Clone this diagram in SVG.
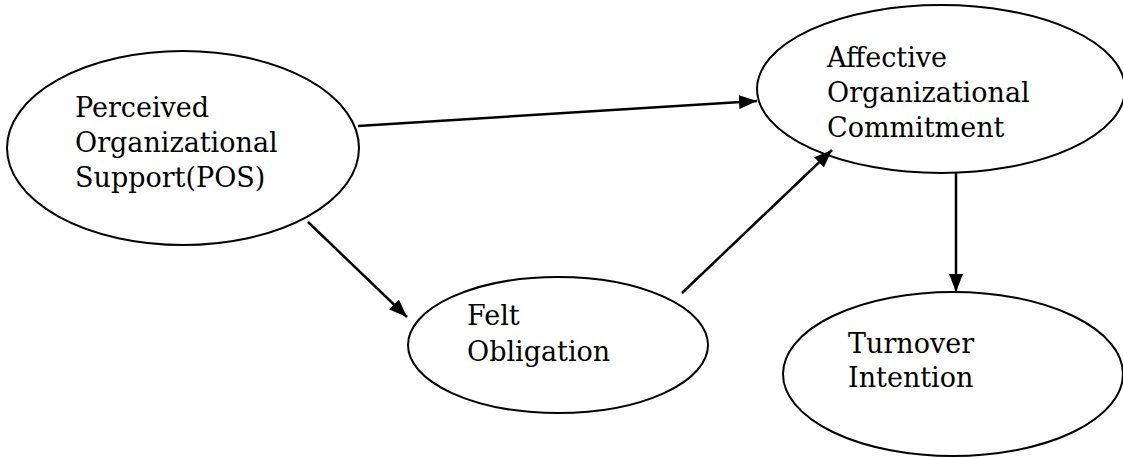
<svg xmlns="http://www.w3.org/2000/svg" width="1123" height="458" viewBox="0 0 1123 458">
<defs>
<marker id="arr" markerUnits="userSpaceOnUse" markerWidth="18" markerHeight="14" viewBox="0 0 18 14" refX="18" refY="7" orient="auto">
<path d="M0,0 L18,7 L0,14 z" fill="#000"/>
</marker>
</defs>
<style>
.node ellipse{fill:#fff;stroke:#000;stroke-width:2}
.node text{font-family:"DejaVu Serif","Liberation Serif",serif;font-size:27px;fill:#000}
.edge{stroke:#000;stroke-width:2.5;fill:none;marker-end:url(#arr)}
</style>
<rect width="1123" height="458" fill="#fff"/>
<g id="pos" class="node">
<ellipse cx="183" cy="148" rx="176" ry="97"/>
<text x="75" y="117">Perceived</text>
<text x="75" y="152">Organizational</text>
<text x="75" y="187">Support(POS)</text>
</g>
<g id="aoc" class="node">
<ellipse cx="941" cy="89" rx="184" ry="84"/>
<text x="827" y="67">Affective</text>
<text x="827" y="102">Organizational</text>
<text x="827" y="137">Commitment</text>
</g>
<g id="felt" class="node">
<ellipse cx="558" cy="345" rx="150" ry="68"/>
<text x="467" y="325">Felt</text>
<text x="467" y="361">Obligation</text>
</g>
<g id="turnover" class="node">
<ellipse cx="953" cy="374" rx="170" ry="82"/>
<text x="848" y="353">Turnover</text>
<text x="848" y="387">Intention</text>
</g>
<g id="connectors">
<line class="edge" x1="358" y1="126" x2="757" y2="101"/>
<line class="edge" x1="308" y1="222" x2="407" y2="317"/>
<line class="edge" x1="682" y1="293" x2="832" y2="150"/>
<line class="edge" x1="956" y1="173" x2="956" y2="292"/>
</g>
</svg>
